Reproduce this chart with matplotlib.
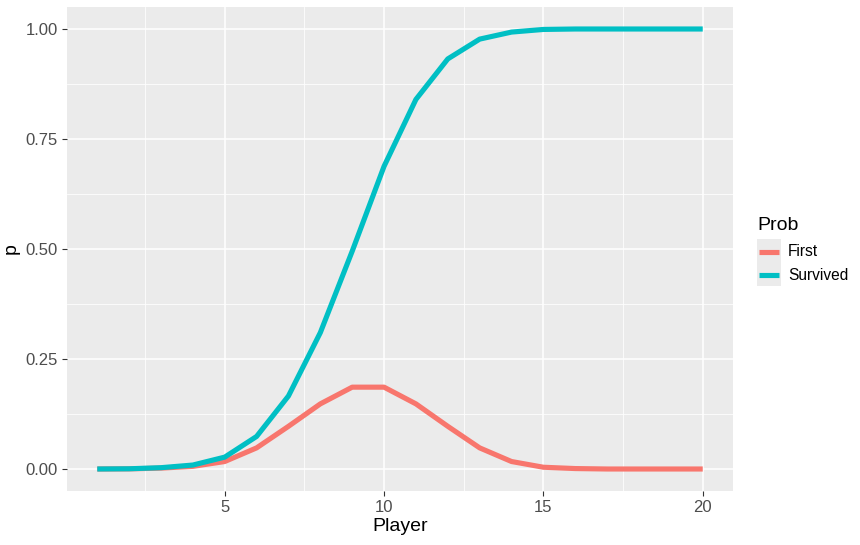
import matplotlib.pyplot as plt
from matplotlib.lines import Line2D
from matplotlib.patches import Rectangle

player = list(range(1, 21))
first = [0.0, 0.0003, 0.002, 0.006, 0.017, 0.048, 0.097, 0.148, 0.186, 0.186,
         0.148, 0.097, 0.048, 0.017, 0.004, 0.001, 0.0, 0.0, 0.0, 0.0]
survived = [0.0, 0.0005, 0.003, 0.009, 0.027, 0.074, 0.166, 0.31, 0.495, 0.688,
            0.84, 0.932, 0.977, 0.993, 0.999, 1.0, 1.0, 1.0, 1.0, 1.0]
series = ["First", "Survived"]
colors = ["#F8766D", "#00BFC4"]

plt.rcParams['font.family'] = ['Liberation Sans', 'DejaVu Sans']

fig = plt.figure(figsize=(8.6, 5.45), dpi=100)
W, H = 860, 545
ax = fig.add_axes([67 / W, 1 - 491 / H, 666 / W, 484 / H])
ax.set_facecolor("#EBEBEB")
for s in ax.spines.values():
    s.set_visible(False)

ax.plot(player, first, color=colors[0], lw=3.7, solid_capstyle="butt", zorder=3)
ax.plot(player, survived, color=colors[1], lw=3.7, solid_capstyle="butt", zorder=3)

ax.set_xlim(0.05, 20.95)
ax.set_ylim(-0.05, 1.05)
ax.set_xticks([5, 10, 15, 20])
ax.set_yticks([0, 0.25, 0.5, 0.75, 1.0])
ax.set_yticklabels(["0.00", "0.25", "0.50", "0.75", "1.00"])
ax.set_xticks([2.5, 7.5, 12.5, 17.5], minor=True)
ax.set_yticks([0.125, 0.375, 0.625, 0.875], minor=True)
ax.grid(which="major", color="white", lw=1.1)
ax.grid(which="minor", color="white", lw=0.55)
ax.set_axisbelow(True)
ax.tick_params(which="major", length=3.5, width=0.8, color="#333333",
               labelcolor="#4D4D4D", labelsize=12, pad=3)
ax.tick_params(which="minor", length=0)
ax.set_xlabel("Player", fontsize=14, labelpad=2)
ax.set_ylabel("p", fontsize=14, labelpad=4)

# legend drawn by hand, ggplot style
fig.text(757 / W, 1 - 225 / H, "Prob", fontsize=14, va="center", ha="left")
fig.add_artist(Rectangle((757 / W, 1 - 286 / H), 24 / W, 47 / H,
                         transform=fig.transFigure, color="#EBEBEB", lw=0))
for i, (name, c) in enumerate(zip(series, colors)):
    y = 1 - (252 + 23 * i) / H
    fig.add_artist(Line2D([759 / W, 779 / W], [y, y], color=c, lw=3.7,
                          transform=fig.transFigure, solid_capstyle="butt"))
    fig.text(788 / W, y, name, fontsize=11.2, va="center", ha="left")

fig.savefig("out.png", dpi=100)
